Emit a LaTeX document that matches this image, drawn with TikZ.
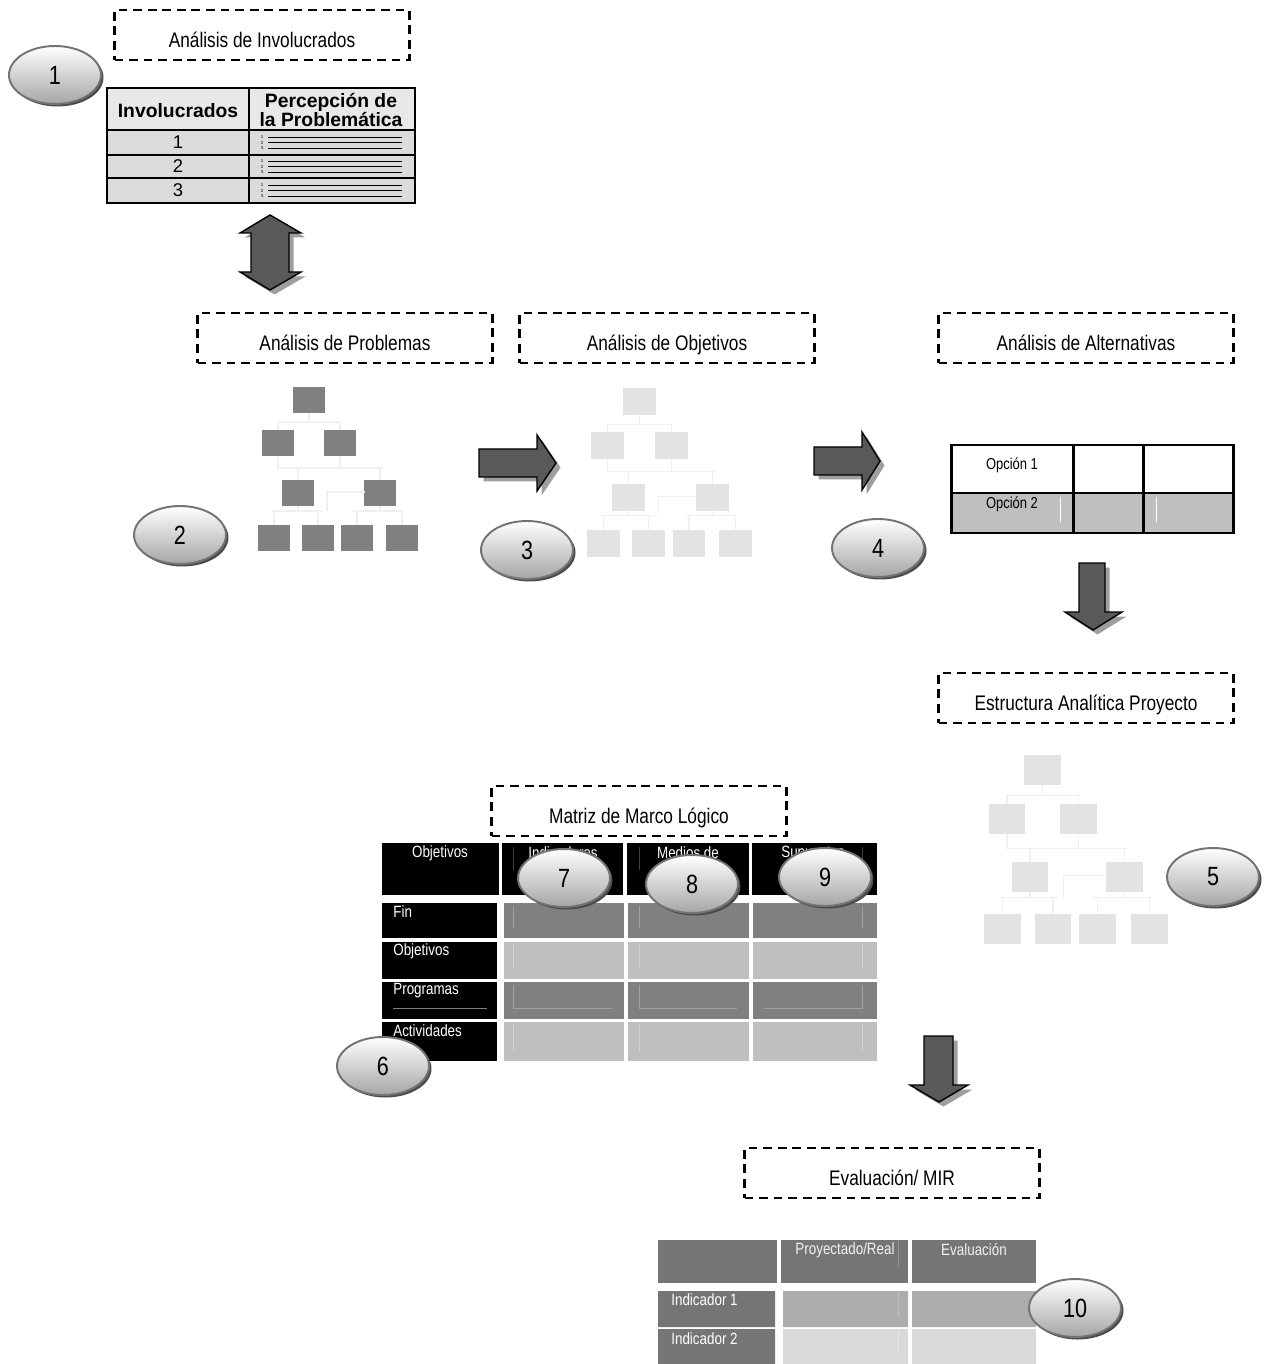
\documentclass[tikz,border=0pt]{standalone}
\usepackage{fontspec}
\setmainfont{Liberation Sans}[FakeStretch=0.82]
\newfontfamily\widesans{Liberation Sans}
\usetikzlibrary{shapes,shadows,positioning}

\tikzset{
  labelbox/.style={draw, dashed, dash pattern=on 5pt off 3.3pt, line width=1.5pt,
    minimum width=5.9cm, minimum height=1.0cm, text height=2.9ex, text depth=0.2ex,
    font=\fontsize{12}{14}\selectfont},
  numoval/.style={ellipse, draw=black!55, line width=1.1pt, top color=white, bottom color=black!35,
    minimum width=1.84cm, minimum height=1.16cm, font=\fontsize{15}{17}\selectfont,
    drop shadow={shadow xshift=0.05cm, shadow yshift=-0.05cm, fill=black!70, opacity=1}},
  blockarr/.style={draw=black, line width=0.8pt, fill=black!65,
    drop shadow={shadow xshift=0.09cm, shadow yshift=-0.09cm, fill=black!38, opacity=1}},
  headtxt/.style={font=\widesans\bfseries\fontsize{11}{9.8}\selectfont, inner sep=0pt},
  celltxt/.style={text=white, font=\fontsize{9.3}{11}\selectfont, inner sep=0pt},
  treeline/.style={draw=black!6, line width=0.6pt},
  pics/orgtree/.style={code={
    \foreach \cx/\cy in {51/13, 20/56, 82/56, 40/106, 122/106, 16/151, 60/151, 99/151, 144/151}
      \fill[#1] (\cx-16,\cy-13) rectangle (\cx+16,\cy+13);
    \draw[treeline] (51,26) -- (51,35) (20,35) -- (82,35) (20,35) -- (20,43) (82,35) -- (82,43)
      (20,69) -- (20,81) (82,69) -- (82,81) (19,81) -- (125,81) (40,81) -- (40,93) (122,81) -- (122,93)
      (40,119) -- (40,124) (14,124) -- (64,124) (16,124) -- (16,138) (60,124) -- (60,138)
      (122,119) -- (122,124) (95,124) -- (145,124) (99,124) -- (99,138) (144,124) -- (144,138)
      (107,105) -- (69,105) -- (69,124);
  }}
}

\begin{document}
\begin{tikzpicture}[x=0.02cm, y=-0.02cm]
\useasboundingbox (0,0) rectangle (1268,1364);

% headings
\node[labelbox] (inv) at (262,35) {Análisis de Involucrados};
\node[labelbox] (prob) at (345,338) {Análisis de Problemas};
\node[labelbox] (obj) at (667,338) {Análisis de Objetivos};
\node[labelbox] (alt) at (1086,338) {Análisis de Alternativas};
\node[labelbox] (est) at (1086,698) {Estructura Analítica Proyecto};
\node[labelbox] (mml) at (639,811) {Matriz de Marco Lógico};
\node[labelbox] (eva) at (892,1173) {Evaluación/ MIR};

% stakeholder table
\fill[black!9] (107,88) rectangle (415,130);
\fill[black!14] (107,130) rectangle (415,203);
\draw[line width=0.8pt] (249,88) -- (249,203) (107,130) -- (415,130) (107,155) -- (415,155) (107,178) -- (415,178);
\draw[line width=1.3pt] (107,88) rectangle (415,203);
\node[headtxt] (hinv) at (178,111) {Involucrados};
\node[headtxt, align=center] (hper) at (331,110) {Percepción de\\la Problemática};
\foreach \r/\y in {1/142.5, 2/166.5, 3/190.5} {
  \node[font=\widesans\fontsize{10.5}{10}\selectfont, inner sep=0pt] (row\r) at (178,\y) {\r};
  \foreach \k/\d in {1/-5.5, 2/0, 3/5.5} {
    \node[font=\widesans\fontsize{2.5}{3}\selectfont, inner sep=0pt] (lst\r\k) at (262,\y+\d) {\k};
    \draw[line width=0.5pt] (268,\y+\d) -- (402,\y+\d);
  }
}

% trees
\pic at (258,387) {orgtree=black!50};
\pic[scale=1.03] at (587,388) {orgtree=black!11};
\pic[scale=1.15] at (984,755) {orgtree=black!11};

% arrows
\coordinate (arrI) at (270,215);
\coordinate (arrP) at (479,449);
\coordinate (arrO) at (814,447);
\coordinate (arrA) at (1079,563);
\coordinate (arrE) at (924,1036);
\draw[blockarr] (arrI) -- ++(31,18) -- ++(-12,0) -- ++(0,39) -- ++(12,0) -- ++(-31,18)
  -- ++(-30,-18) -- ++(11,0) -- ++(0,-39) -- ++(-11,0) -- cycle;
\draw[blockarr] (arrP) -- ++(58,0) -- ++(0,-14) -- ++(19,28) -- ++(-19,28) -- ++(0,-14) -- ++(-58,0) -- cycle;
\draw[blockarr] (arrO) -- ++(48,0) -- ++(0,-15) -- ++(18,29) -- ++(-18,29) -- ++(0,-15) -- ++(-48,0) -- cycle;
\draw[blockarr] (arrA) -- ++(26,0) -- ++(0,49) -- ++(17,0) -- ++(-29,18) -- ++(-28,-18) -- ++(14,0) -- cycle;
\draw[blockarr] (arrE) -- ++(29,0) -- ++(0,49) -- ++(15,0) -- ++(-29,17) -- ++(-29,-17) -- ++(14,0) -- cycle;

% alternatives
\fill[black!25] (951,493) rectangle (1233,533);
\draw[white, line width=0.4pt] (1060,497) -- (1060,522) (1156,497) -- (1156,522);
\draw[line width=1.7pt] (951,445) rectangle (1233,533) (951,493) -- (1233,493)
  (1073,445) -- (1073,533) (1143,445) -- (1143,533);
\node[font=\fontsize{9}{11}\selectfont] (op1) at (1012,465) {Opción 1};
\node[font=\fontsize{9}{11}\selectfont] (op2) at (1012,504) {Opción 2};

% logical framework matrix
\foreach \xa/\xb in {382/499, 502/623, 627/749, 752/877}
  \fill (\xa,843) rectangle (\xb,895);
\draw[black!75, line width=0.4pt] (513,847) -- (513,870) (639,847) -- (639,870) (862,847) -- (862,870);
\foreach \ya/\yb/\col/\lcol in {903/938/black!50/black!37, 942/979/black!25/black!17,
    982/1019/black!50/black!37, 1022/1061/black!25/black!17} {
  \fill (382,\ya) rectangle (497,\yb);
  \foreach \xa/\xb in {504/624, 628/749, 753/877}
    \fill[\col] (\xa,\ya) rectangle (\xb,\yb);
  \draw[\lcol, line width=0.4pt] (513,\ya+3) -- (513,\yb-10) (639,\ya+3) -- (639,\yb-10) (862,\ya+3) -- (862,\yb-10);
}
\draw[black!37, line width=0.4pt] (513,1008) -- (612,1008) (639,1008) -- (737,1008) (764,1008) -- (862,1008);
\draw[black!50, line width=0.4pt] (393,1008) -- (487,1008);
\node[celltxt] (mobj) at (440,853) {Objetivos};
\node[celltxt] (mind) at (563,853) {Indicadores};
\node[celltxt] (mmed) at (688,853) {Medios de};
\node[celltxt] (msup) at (813,853) {Supuestos};
\node[celltxt, anchor=west] (mfin) at (393,912) {Fin};
\node[celltxt, anchor=west] (mobjr) at (393,951) {Objetivos};
\node[celltxt, anchor=west] (mprog) at (393,991) {Programas};
\node[celltxt, anchor=west] (mact) at (393,1031) {Actividades};

% evaluation table
\foreach \xa/\xb in {658/777, 781/908, 912/1036}
  \fill[black!54] (\xa,1240) rectangle (\xb,1283);
\fill[black!54] (658,1291) rectangle (775,1327) (658,1329) rectangle (775,1364);
\fill[black!32] (783,1291) rectangle (908,1327) (912,1291) rectangle (1036,1327);
\fill[black!15] (783,1329) rectangle (908,1364) (912,1329) rectangle (1036,1364);
\draw[black!42, line width=0.4pt] (898,1241) -- (898,1266);
\draw[black!25, line width=0.4pt] (898,1292) -- (898,1316);
\draw[black!10, line width=0.4pt] (898,1330) -- (898,1355);
\node[celltxt, text=black!5] (eproy) at (845,1250) {Proyectado/Real};
\node[celltxt, text=black!5] (eeval) at (974,1250) {Evaluación};
\node[celltxt, anchor=west] (eind1) at (671,1300) {Indicador 1};
\node[celltxt, anchor=west] (eind2) at (671,1339) {Indicador 2};

% step numbers
\node[numoval] (n1) at (55,75) {1};
\node[numoval] (n2) at (180,535) {2};
\node[numoval] (n3) at (527,550) {3};
\node[numoval] (n4) at (878,548) {4};
\node[numoval] (n5) at (1213,877) {5};
\node[numoval] (n6) at (383,1066) {6};
\node[numoval] (n7) at (564,878) {7};
\node[numoval] (n8) at (692,884) {8};
\node[numoval] (n9) at (825,877) {9};
\node[numoval] (n10) at (1075,1308) {10};

\end{tikzpicture}
\end{document}
